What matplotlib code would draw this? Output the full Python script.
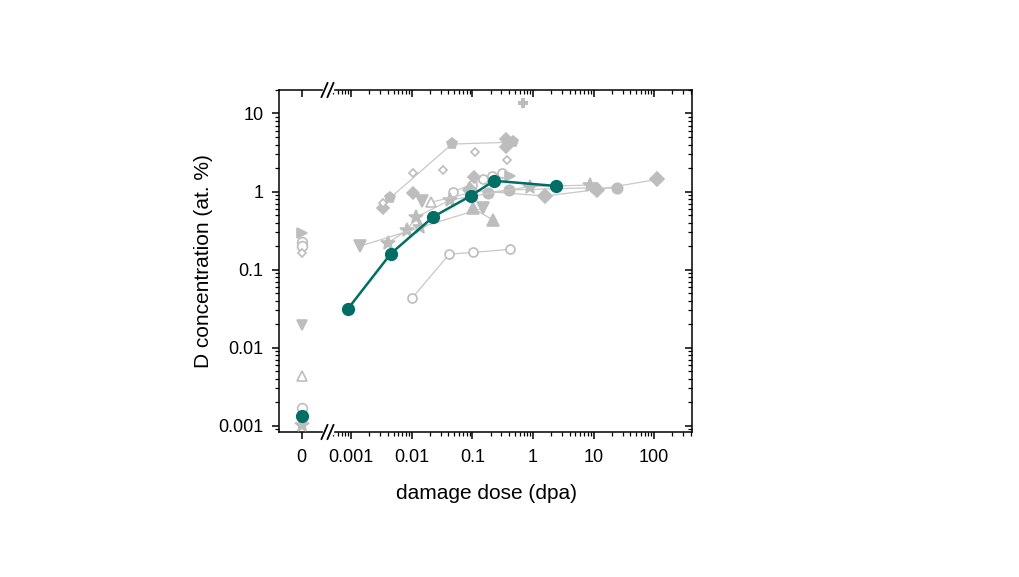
import matplotlib
matplotlib.use("Agg")
import matplotlib.pyplot as plt
from matplotlib.lines import Line2D
from matplotlib.patches import Rectangle
from matplotlib.ticker import FixedLocator, LogLocator, FuncFormatter, NullFormatter

plt.rcParams["font.family"] = ["Liberation Sans", "DejaVu Sans"]

TEAL = "#006e64"
GREY = "#bdbdbd"
GREY_LINE = "#c8c8c8"

# main series (teal)
teal_x = [0.00087, 0.0045, 0.0226, 0.093, 0.227, 2.37]
teal_y = [0.031, 0.16, 0.475, 0.876, 1.375, 1.18]
teal_zero_y = [0.00133]

# literature data (grey), dose > 0
oc_lo_x = [0.0102, 0.0416, 0.1035, 0.417]
oc_lo_y = [0.0436, 0.158, 0.166, 0.182]

oc_hi_x = [0.048, 0.098, 0.15, 0.21, 0.31]
oc_hi_y = [1.0, 1.23, 1.43, 1.58, 1.75]

pent_x = [0.0044, 0.046, 0.47]
pent_y = [0.83, 4.06, 4.29]

fdia_a_x = [0.0033, 0.0105, 0.106, 0.36, 0.36]
fdia_a_y = [0.62, 0.95, 1.53, 3.74, 4.66]

odia_x = [0.0033, 0.0105, 0.0327, 0.11, 0.37]
odia_y = [0.71, 1.73, 1.88, 3.2, 2.53]

fdia_b_x = [0.091, 1.58, 11.4, 113]
fdia_b_y = [1.04, 0.876, 1.06, 1.43]

fcirc_x = [0.18, 0.4, 10.5, 24]
fcirc_y = [0.97, 1.05, 1.12, 1.1]

star_x = [0.0041, 0.0083, 0.0118, 0.043, 0.89, 8.7]
star_y = [0.22, 0.32, 0.47, 0.78, 1.16, 1.21]

star_b_x = [0.0137]
star_b_y = [0.35]

dtri_x = [0.0014, 0.15]
dtri_y = [0.2, 0.615]

dtri_b_x = [0.0146]
dtri_b_y = [0.755]

utri_x = [0.103, 0.22]
utri_y = [0.61, 0.43]

otri_x = [0.021, 0.1]
otri_y = [0.73, 0.98]

rtri_x = [0.42]
rtri_y = [1.58]

plus_x = [0.69]
plus_y = [13.5]

# grey data at zero dose: (marker, filled, value)
zero_markers = [">", "o", "o", "D", "v", "^", "o", "*"]
zero_filled = [True, False, False, False, True, False, False, True]
zero_y = [0.291, 0.227, 0.2, 0.162, 0.0195, 0.0043, 0.00167, 0.00101]

x_ticks = [0.001, 0.01, 0.1, 1, 10, 100]
y_ticks = [0.001, 0.01, 0.1, 1, 10]

W, H = 1019, 577


def fx(px):
    return px / W


def fy(py):
    return 1 - py / H


fig = plt.figure(figsize=(W / 100, H / 100), dpi=100)

left, brk, right = 279, 328, 692
top, bottom = 90, 432

ax0 = fig.add_axes([fx(left), fy(bottom), fx(brk) - fx(left), fy(top) - fy(bottom)])
ax1 = fig.add_axes([fx(brk), fy(bottom), fx(right) - fx(brk), fy(top) - fy(bottom)], sharey=ax0)

for ax in (ax0, ax1):
    ax.set_yscale("log")
    ax.set_ylim(0.00083, 20)
    for s in ax.spines.values():
        s.set_linewidth(1.1)

ax0.spines["right"].set_visible(False)
ax1.spines["left"].set_visible(False)

ax1.set_xscale("log")
ax1.set_xlim(0.000414, 420)
ax0.set_xlim(-22.5, 26.5)


def grey(ax, x, y, marker, filled=True, ms=7, line=True):
    ax.plot(x, y, marker=marker, ls="-" if line else "none",
            color=GREY_LINE, lw=0.9, ms=ms,
            mfc=GREY if filled else "white", mec=GREY, mew=1.2, zorder=3)


grey(ax1, oc_lo_x, oc_lo_y, "o", filled=False, ms=6.5)
grey(ax1, oc_hi_x, oc_hi_y, "o", filled=False, ms=6.5)
grey(ax1, pent_x, pent_y, "p", ms=8)
grey(ax1, fdia_a_x, fdia_a_y, "D", ms=6, line=False)
grey(ax1, odia_x, odia_y, "D", filled=False, ms=4.5, line=False)
grey(ax1, fdia_b_x, fdia_b_y, "D", ms=7)
grey(ax1, fcirc_x, fcirc_y, "o", ms=7.5)
grey(ax1, star_x, star_y, "*", ms=10)
grey(ax1, star_b_x, star_b_y, "*", ms=10, line=False)
grey(ax1, dtri_x, dtri_y, "v", ms=8)
grey(ax1, dtri_b_x, dtri_b_y, "v", ms=8, line=False)
grey(ax1, utri_x, utri_y, "^", ms=8)
grey(ax1, otri_x, otri_y, "^", filled=False, ms=7)
grey(ax1, rtri_x, rtri_y, ">", ms=7.5, line=False)
ax1.plot(plus_x, plus_y, marker="P", ls="none", color=GREY, ms=7.5, mew=0)

for m, f, yv in zip(zero_markers, zero_filled, zero_y):
    grey(ax0, [0], [yv], m, filled=f,
         ms=4.5 if m == "D" else (10 if m == "*" else 7), line=False)

ax1.plot(teal_x, teal_y, "-o", color=TEAL, lw=1.8, ms=8.5, zorder=5)
ax0.plot([0] * len(teal_zero_y), teal_zero_y, "o", color=TEAL, ms=8.5, zorder=5)

# ticks
fmt = FuncFormatter(lambda v, p: "{:g}".format(v))

ax0.xaxis.set_major_locator(FixedLocator([0]))
ax0.tick_params(axis="x", which="major", direction="out", length=5, width=1.1,
                labelsize=13, pad=7)
ax0.yaxis.set_major_locator(FixedLocator(y_ticks))
ax0.yaxis.set_minor_locator(LogLocator(base=10, subs=range(2, 10)))
ax0.yaxis.set_major_formatter(fmt)
ax0.yaxis.set_minor_formatter(NullFormatter())
ax0.tick_params(axis="y", which="major", direction="out", length=5, width=1.1,
                labelsize=13, pad=6)
ax0.tick_params(axis="y", which="minor", direction="out", length=3, width=0.9)

ax1.xaxis.set_major_locator(FixedLocator(x_ticks))
ax1.xaxis.set_minor_locator(LogLocator(base=10, subs=range(2, 10)))
ax1.xaxis.set_major_formatter(fmt)
ax1.xaxis.set_minor_formatter(NullFormatter())
ax1.tick_params(axis="x", which="major", direction="out", length=5, width=1.1,
                labelsize=13, pad=7)
ax1.tick_params(axis="x", which="minor", direction="out", length=3, width=0.9)
ax1.tick_params(axis="y", which="both", left=False, labelleft=False,
                right=True, direction="in", width=1.1)
ax1.tick_params(axis="y", which="major", length=5)
ax1.tick_params(axis="y", which="minor", length=3, width=0.9)

for ax in (ax0, ax1):
    sec = ax.secondary_xaxis("top")
    if ax is ax1:
        sec.xaxis.set_major_locator(FixedLocator(x_ticks))
        sec.xaxis.set_minor_locator(LogLocator(base=10, subs=range(2, 10)))
        sec.xaxis.set_minor_formatter(NullFormatter())
    else:
        sec.xaxis.set_major_locator(FixedLocator([0]))
    sec.tick_params(axis="x", which="major", direction="in", length=5, width=1.1,
                    labeltop=False)
    sec.tick_params(axis="x", which="minor", direction="in", length=3, width=0.9)
    sec.spines["top"].set_visible(False)

ax1.set_xlabel("damage dose (dpa)", fontsize=15)
ax1.xaxis.set_label_coords((486 - brk) / (right - brk), -0.152)
ax0.set_ylabel("D concentration (at. %)", fontsize=15, labelpad=4)

# axis break marks
for yb in (top, bottom):
    fig.add_artist(Rectangle((fx(323), fy(yb) - 0.004), fx(333) - fx(323), 0.008,
                             transform=fig.transFigure, color="white", zorder=10))
    for xc in (324.5, 330.5):
        fig.add_artist(Line2D([fx(xc - 3), fx(xc + 3)], [fy(yb + 7), fy(yb - 7)],
                              transform=fig.transFigure, color="black", lw=1.3, zorder=11))

fig.savefig("out.png", dpi=100)
